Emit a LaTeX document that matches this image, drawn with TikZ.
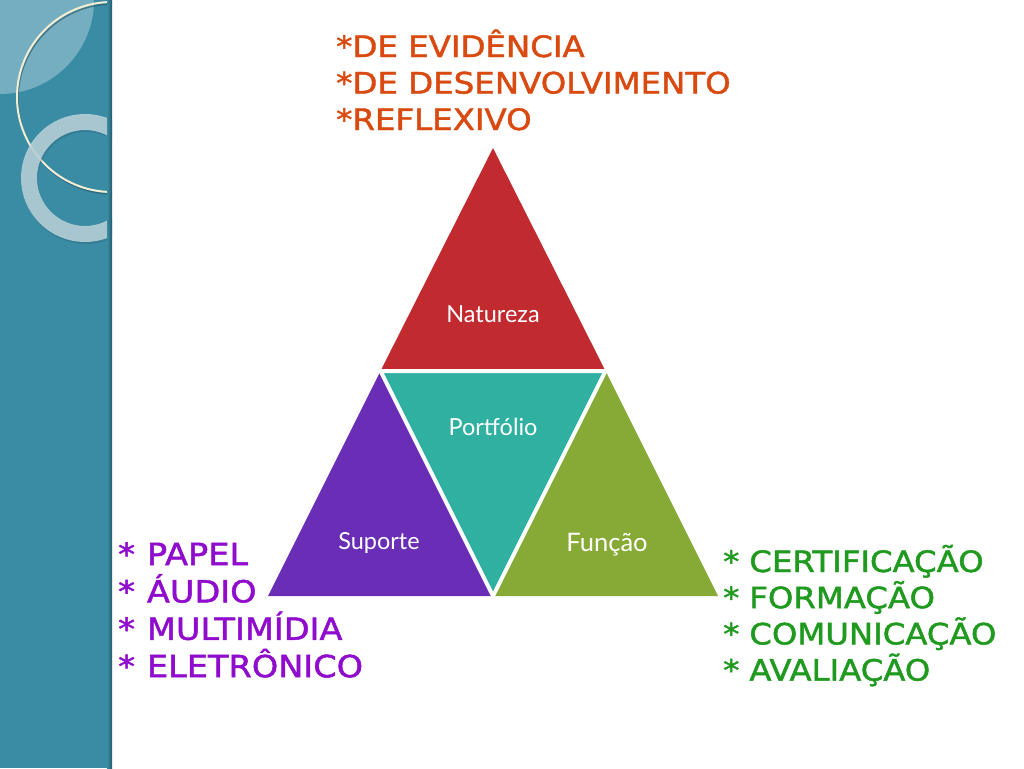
\documentclass[tikz,border=0pt]{standalone}
\usepackage{fontspec}
\newfontfamily\listfont[FakeStretch=1.1,FakeBold=1.6]{DejaVu Sans}
\newfontfamily\shapefont{Lato}
\usetikzlibrary{positioning}

\definecolor{barteal}{HTML}{3A8CA5}
\definecolor{ringcream}{HTML}{F3EDD3}
\definecolor{ringgray}{HTML}{BCD3DA}
\definecolor{natred}{HTML}{C12A2E}
\definecolor{portteal}{HTML}{30B0A0}
\definecolor{supviolet}{HTML}{6A2DB6}
\definecolor{funcgreen}{HTML}{86AA35}
\definecolor{evidorange}{HTML}{D94A10}
\definecolor{suppurple}{HTML}{900CCC}
\definecolor{funclistgreen}{HTML}{1F9A1F}

\tikzset{
    trilabel/.style={text=white, inner sep=0pt, anchor=base,
        font=\shapefont\fontsize{23.5}{27}\selectfont},
    listitem/.style={inner sep=0pt, anchor=base west},
    natlist/.style={listitem, text=evidorange,
        font=\listfont\fontsize{29.5}{35}\selectfont},
    suplist/.style={listitem, text=suppurple,
        font=\listfont\fontsize{30.5}{36}\selectfont},
    funclist/.style={listitem, text=funclistgreen,
        font=\listfont\fontsize{29.4}{35}\selectfont},
}

\begin{document}
\begin{tikzpicture}[x=1pt,y=-1pt]
\useasboundingbox (0,0) rectangle (1024,768);

% Side bar with its rings
\fill[barteal] (0,0) rectangle (112,768);
\begin{scope}
    \clip (0,0) rectangle (112,768);
    \fill[white,opacity=0.3] (0,0) circle (94pt);
    \draw[barteal!60!black,line width=1.5pt,opacity=.6] (113,99) circle (95pt);
    \draw[ringcream,line width=2pt] (112,97) circle (95pt);
    \draw[barteal!60!black,line width=16pt,opacity=.25] (86,180) circle (56pt);
    \draw[ringgray,line width=16pt,opacity=.85] (85,178) circle (56pt);
\end{scope}
\shade[left color=barteal, right color=barteal!65!black] (107,0) rectangle (112,768);

% Corners of the big triangle and the middle points of its sides
\coordinate (bl) at (268,596);
\coordinate (br) at (718,596);
\coordinate (top) at (493,148);
\coordinate (mb) at (493,596);
\coordinate (ml) at (380.5,371);
\coordinate (mr) at (605.5,371);

\fill[natred] (ml) -- (top) -- (mr) -- cycle;
\fill[portteal] (ml) -- (mr) -- (mb) -- cycle;
\fill[supviolet] (bl) -- (ml) -- (mb) -- cycle;
\fill[funcgreen] (mb) -- (mr) -- (br) -- cycle;
% white gaps between the parts
\draw[white,line width=4pt] (ml) -- (mr) -- (mb) -- cycle;

\node[trilabel] (natureza) at (493,322) {Natureza};
\node[trilabel] (portfolio) at (493,435) {Portfólio};
\node[trilabel] (suporte) at (379,549) {Suporte};
\node[trilabel,font=\shapefont\fontsize{25.5}{29}\selectfont] (funcao) at (607,551) {Função};

% Lists round the triangle
\foreach \txt [count=\i from 0] in {DE EVIDÊNCIA, DE DESENVOLVIMENTO, REFLEXIVO}
    \node[natlist] (nat\i) at (336,{57+36.5*\i}) {*\txt};

\foreach \txt [count=\i from 0] in {PAPEL, ÁUDIO, MULTIMÍDIA, ELETRÔNICO}
    \node[suplist] (sup\i) at (118,{565+37.4*\i}) {*\hspace{12pt}\txt};

\foreach \txt [count=\i from 0] in {CERTIFICAÇÃO, FORMAÇÃO, COMUNICAÇÃO, AVALIAÇÃO}
    \node[funclist] (func\i) at (723,{572+36.2*\i}) {*\hspace{10pt}\txt};

\end{tikzpicture}
\end{document}
